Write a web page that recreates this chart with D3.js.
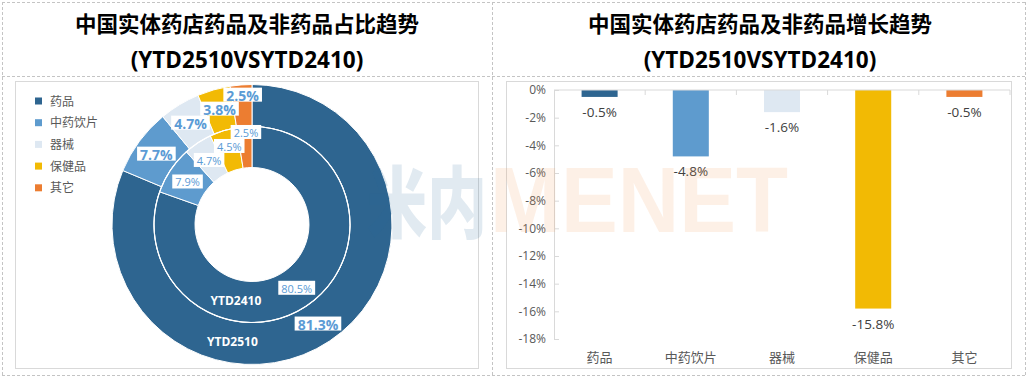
<!DOCTYPE html>
<html><head><meta charset="utf-8">
<script src="https://cdn.jsdelivr.net/npm/d3@7"></script>
<style>body{margin:0;background:#fff}svg{display:block}</style>
</head><body>
<svg id="c" width="1029" height="379"></svg>
<script>
// ---------------- data ----------------
const categories = ["药品", "中药饮片", "器械", "保健品", "其它"];
const share2510 = [81.3, 7.7, 4.7, 3.8, 2.5];
const share2410 = [80.5, 7.9, 4.7, 4.5, 2.5];
const growth = [-0.5, -4.8, -1.6, -15.8, -0.5];
const yTicks = [0, -2, -4, -6, -8, -10, -12, -14, -16, -18];
const ringNames = ["YTD2510", "YTD2410"];
const titleLeft = ["中国实体药店药品及非药品占比趋势", "(YTD2510VSYTD2410)"];
const titleRight = ["中国实体药店药品及非药品增长趋势", "(YTD2510VSYTD2410)"];
const colors = ["#2E6590", "#5E9BCE", "#DEE8F2", "#F2BA04", "#EC7D31"];

const FONT = "'Open Sans','Noto Sans CJK SC',sans-serif";
const svg = d3.select("#c").style("font-family", FONT);

// ---------------- frames ----------------
const dash = svg.append("g").attr("stroke", "#C4C4C4").attr("stroke-width", 1).attr("stroke-dasharray", "3,2").attr("fill", "none");
[2.5, 492.5, 1025.5].forEach(xv => dash.append("line").attr("x1", xv).attr("x2", xv).attr("y1", 2).attr("y2", 376));
[2.5, 76.5, 375.5].forEach(yv => dash.append("line").attr("x1", 2).attr("x2", 1026).attr("y1", yv).attr("y2", yv));
svg.append("rect").attr("x", 15.5).attr("y", 81.5).attr("width", 463).attr("height", 287).attr("fill", "none").attr("stroke", "#D9D9D9");
svg.append("rect").attr("x", 506.5).attr("y", 81.5).attr("width", 505).attr("height", 287).attr("fill", "none").attr("stroke", "#D9D9D9");

function title(lines, cx) {
  const g = svg.append("g").attr("font-weight", "bold").attr("fill", "#000").attr("text-anchor", "middle");
  g.append("text").attr("x", cx).attr("y", 23).attr("dominant-baseline", "central").attr("font-size", 21.5).text(lines[0]);
  g.append("text").attr("x", cx).attr("y", 59).attr("dominant-baseline", "central").attr("font-size", 22.5).text(lines[1]);
}
title(titleLeft, 247);
title(titleRight, 760);

// ---------------- legend ----------------
const leg = svg.append("g");
categories.forEach((c, i) => {
  const yy = 101 + i * 21.7;
  leg.append("rect").attr("x", 35).attr("y", yy - 3.5).attr("width", 7).attr("height", 7).attr("fill", colors[i]);
  leg.append("text").attr("x", 50).attr("y", yy).attr("dominant-baseline", "central")
    .attr("font-size", 12).attr("fill", "#595959").text(c);
});

// ---------------- donut ----------------
const cx = 252, cy = 224.5;
const R0 = 57, R1 = 98, R2 = 140;
const pie = d3.pie().sort(null).value(d => d).startAngle(0).endAngle(2 * Math.PI);
const rings = [
  { data: share2510, arc: d3.arc().innerRadius(R1).outerRadius(R2), bold: true, fs: 14, h: 14, pad: 2, nameAngle: 189.5 },
  { data: share2410, arc: d3.arc().innerRadius(R0).outerRadius(R1), bold: false, fs: 11, h: 14, pad: 2, nameAngle: 192 }
];
const dg = svg.append("g").attr("transform", `translate(${cx},${cy})`);
rings.forEach(r => {
  dg.append("g").selectAll("path").data(pie(r.data)).join("path")
    .attr("d", r.arc).attr("fill", (d, i) => colors[i]).attr("stroke", "#fff").attr("stroke-width", 1);
});
dg.append("circle").attr("r", R1).attr("fill", "none").attr("stroke", "#fff").attr("stroke-width", 1.2);

// ring names
ringNames.forEach((n, k) => {
  const a = rings[k].nameAngle * Math.PI / 180;
  const p = rings[k].arc.centroid({ startAngle: a, endAngle: a });
  dg.append("text").attr("x", p[0]).attr("y", p[1]).attr("text-anchor", "middle").attr("dominant-baseline", "central")
    .attr("font-size", 12).attr("font-weight", "bold").attr("fill", "#fff").text(n);
});

// data labels with simple greedy collision avoidance (later slices move upward)
rings.forEach(r => {
  const placed = [];
  const lg = dg.append("g");
  pie(r.data).forEach((d, i) => {
    const c = r.arc.centroid(d);
    const g = lg.append("g");
    const t = g.append("text").attr("text-anchor", "middle").attr("dominant-baseline", "central")
      .attr("font-size", r.fs).attr("font-weight", r.bold ? "bold" : "normal").attr("fill", "#5B9BD5")
      .text(d.data.toFixed(1) + "%");
    const w = t.node().getComputedTextLength() + 2 * r.pad + 2;
    const h = r.h;
    let px = c[0], py = c[1];
    for (let it = 0; it < 10; it++) {
      let moved = false;
      for (const q of placed) {
        if (Math.abs(px - q.x) < (w + q.w) / 2 && Math.abs(py - q.y) < (h + q.h) / 2) {
          py = q.y - (h + q.h) / 2;
          moved = true;
        }
      }
      if (!moved) break;
    }
    placed.push({ x: px, y: py, w, h });
    g.insert("rect", "text").attr("x", px - w / 2).attr("y", py - h / 2).attr("width", w).attr("height", h).attr("fill", "#fff");
    t.attr("x", px).attr("y", py + 0.5);
  });
});

// ---------------- bar chart ----------------
const x = d3.scaleBand().domain(categories).range([554, 1010]);
const y = d3.scaleLinear().domain([-18, 0]).range([339, 90]);
const barW = x.bandwidth() * 0.395;

const bg = svg.append("g");
bg.selectAll("rect").data(growth).join("rect")
  .attr("x", (d, i) => x(categories[i]) + x.bandwidth() / 2 - barW / 2)
  .attr("y", y(0)).attr("width", barW)
  .attr("height", d => y(d) - y(0))
  .attr("fill", (d, i) => colors[i]);

// y axis
const ya = svg.append("g").attr("transform", `translate(${x.range()[0]},0)`)
  .call(d3.axisLeft(y).tickValues(yTicks).tickFormat(d => d + "%").tickSizeInner(-5).tickSizeOuter(0).tickPadding(8));
ya.select(".domain").attr("stroke", "#D9D9D9");
ya.selectAll(".tick line").attr("stroke", "#D9D9D9");
ya.selectAll(".tick text").attr("font-size", 12).attr("fill", "#595959").attr("font-family", FONT);

// category axis at zero
const xa = svg.append("g");
xa.append("line").attr("x1", x.range()[0]).attr("x2", x.range()[1]).attr("y1", y(0)).attr("y2", y(0)).attr("stroke", "#D9D9D9");
categories.forEach(c => {
  const bx = x(c) + x.step();
  xa.append("line").attr("x1", bx).attr("x2", bx).attr("y1", y(0)).attr("y2", y(0) + 5).attr("stroke", "#D9D9D9");
  xa.append("text").attr("x", x(c) + x.bandwidth() / 2).attr("y", 357).attr("text-anchor", "middle")
    .attr("dominant-baseline", "central").attr("font-size", 13).attr("fill", "#595959").text(c);
});

// bar labels
bg.selectAll("text").data(growth).join("text")
  .attr("x", (d, i) => x(categories[i]) + x.bandwidth() / 2)
  .attr("y", d => y(d) + 15)
  .attr("text-anchor", "middle").attr("dominant-baseline", "central")
  .attr("font-size", 13.5).attr("fill", "#404040")
  .text(d => d.toFixed(1) + "%");

// ---------------- watermark ----------------
const wm = svg.append("g").attr("pointer-events", "none");
wm.append("text").attr("x", 367).attr("y", 232).attr("font-size", 78).attr("font-weight", 900)
  .attr("font-family", "'Noto Sans CJK SC',sans-serif")
  .attr("textLength", 120).attr("lengthAdjust", "spacingAndGlyphs")
  .attr("fill", "#2E6C9E").attr("fill-opacity", 0.14).text("米内");
wm.append("text").attr("x", 490).attr("y", 232).attr("font-size", 93).attr("font-weight", "bold")
  .attr("font-family", "'Liberation Sans',Arial,sans-serif")
  .attr("textLength", 298).attr("lengthAdjust", "spacingAndGlyphs")
  .attr("fill", "#F39A5A").attr("fill-opacity", 0.15).text("MENET");
</script>
</body></html>
